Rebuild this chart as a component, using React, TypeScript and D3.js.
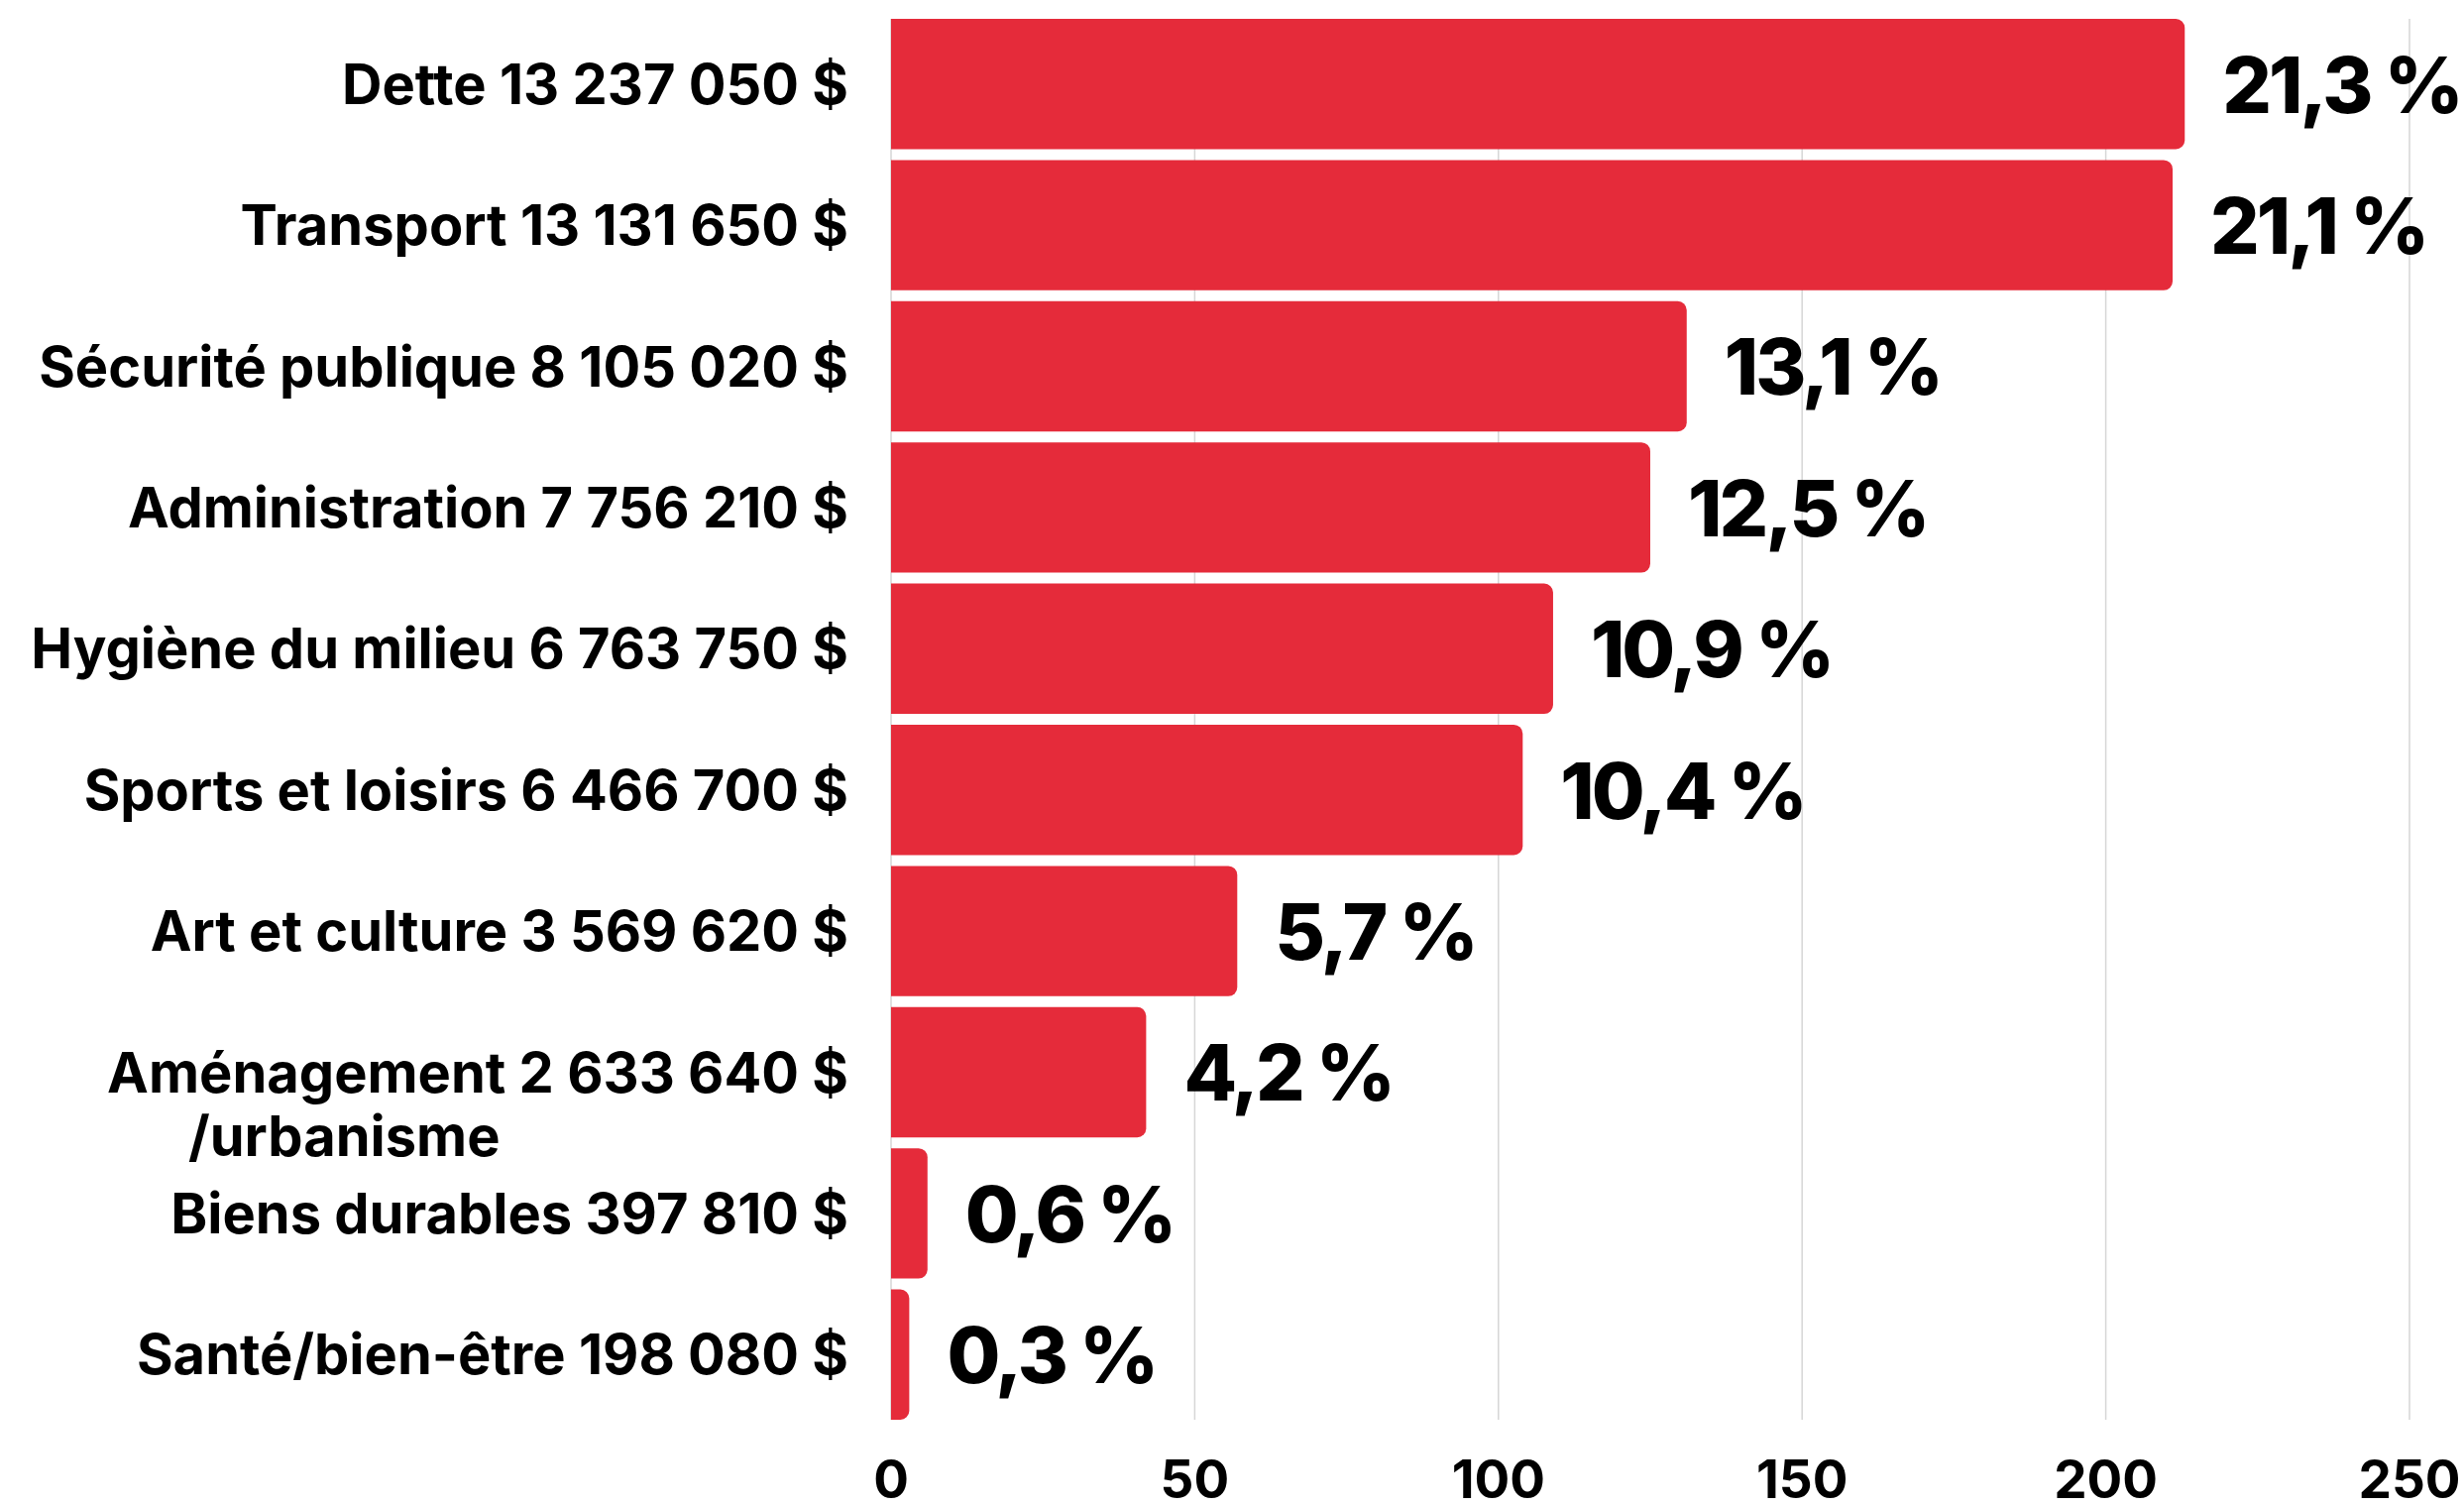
import * as d3 from 'd3';

const categories = [
  'Dette',
  'Transport',
  'Sécurité publique',
  'Administration',
  'Hygiène du milieu',
  'Sports et loisirs',
  'Art et culture',
  'Aménagement',
  'Biens durables',
  'Santé/bien-être',
];
const amounts = [
  '13 237 050 $',
  '13 131 650 $',
  '8 105 020 $',
  '7 756 210 $',
  '6 763 750 $',
  '6 466 700 $',
  '3 569 620 $',
  '2 633 640 $',
  '397 810 $',
  '198 080 $',
];
const secondLines = ['', '', '', '', '', '', '', '/urbanisme', '', ''];
// bar lengths on the 0–250 axis (percent x 10)
const values = [213, 211, 131, 125, 109, 104, 57, 42, 6, 3];
const pctLabels = ['21,3 %', '21,1 %', '13,1 %', '12,5 %', '10,9 %', '10,4 %', '5,7 %', '4,2 %', '0,6 %', '0,3 %'];
const xTicks = [0, 50, 100, 150, 200, 250];

const W = 2486;
const H = 1520;
const RED = '#e52b3a';
const FONT = 'Inter, "Noto Sans", sans-serif';

function barPath(x0: number, x1: number, y: number, h: number, r: number) {
  const rr = Math.min(r, x1 - x0, h / 2);
  return `M${x0},${y}H${x1 - rr}A${rr},${rr} 0 0 1 ${x1},${y + rr}V${y + h - rr}A${rr},${rr} 0 0 1 ${x1 - rr},${y + h}H${x0}Z`;
}

export default function App() {
  const x = d3.scaleLinear().domain([0, 250]).range([899, 2431]);
  const y = d3.scaleBand<string>().domain(categories).range([19, 1432]).paddingInner(0.077).paddingOuter(0);
  const bw = y.bandwidth();

  return (
    <svg
      width={W}
      height={H}
      style={{ position: 'absolute', left: 0, top: 0, display: 'block', background: '#fff' }}
    >
      {/* Grid */}
      <g>
        {xTicks.map((t) => (
          <line key={t} x1={x(t)} x2={x(t)} y1={19} y2={1432} stroke="#d6d6d6" strokeWidth={1.5} />
        ))}
      </g>

      {/* Bars */}
      <g>
        {categories.map((c, i) => (
          <path key={c} d={barPath(x(0), x(values[i]), y(c)!, bw, 9)} fill={RED} />
        ))}
      </g>

      {/* Category labels */}
      <g fontFamily={FONT} fontWeight={700} fontSize={56} fill="#000">
        {categories.map((c, i) => {
          const cy = y(c)! + bw / 2;
          return (
            <g key={c}>
              <text x={x(0) - 43} y={cy} dy="0.36em" textAnchor="end">
                {`${c} ${amounts[i]}`}
              </text>
              {secondLines[i] && (
                <text x={190} y={cy + 64} dy="0.36em" textAnchor="start">
                  {secondLines[i]}
                </text>
              )}
            </g>
          );
        })}
      </g>

      {/* Percent labels */}
      <g fontFamily={FONT} fontWeight={800} fontSize={78} fill="#000">
        {categories.map((c, i) => (
          <text key={c} x={x(values[i]) + 38} y={y(c)! + bw / 2} dy="0.37em" letterSpacing={-3}>
            {pctLabels[i]}
          </text>
        ))}
      </g>

      {/* X axis tick labels */}
      <g fontFamily={FONT} fontWeight={700} fontSize={53} fill="#000" textAnchor="middle">
        {xTicks.map((t) => (
          <text key={t} x={x(t)} y={1492} dy="0.36em">
            {t}
          </text>
        ))}
      </g>
    </svg>
  );
}
